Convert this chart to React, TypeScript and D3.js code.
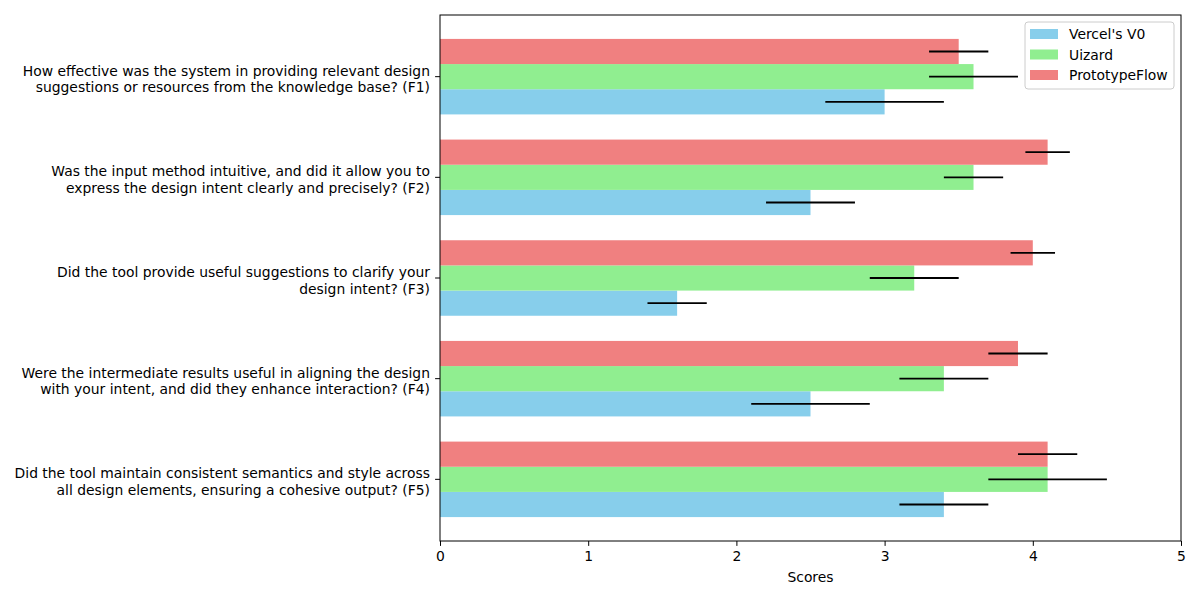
import React, { useRef, useEffect } from "react";
import * as d3 from "d3";

const questions = [
  ["How effective was the system in providing relevant design", "suggestions or resources from the knowledge base? (F1)"],
  ["Was the input method intuitive, and did it allow you to", "express the design intent clearly and precisely? (F2)"],
  ["Did the tool provide useful suggestions to clarify your", "design intent? (F3)"],
  ["Were the intermediate results useful in aligning the design", "with your intent, and did they enhance interaction? (F4)"],
  ["Did the tool maintain consistent semantics and style across", "all design elements, ensuring a cohesive output? (F5)"],
];

const seriesNames = ["Vercel's V0", "Uizard", "PrototypeFlow"];
const seriesColors = ["#87CEEB", "#90EE90", "#F08080"];

const vercelMean = [3.0, 2.5, 1.6, 2.5, 3.4];
const vercelErr = [0.4, 0.3, 0.2, 0.4, 0.3];
const uizardMean = [3.6, 3.6, 3.2, 3.4, 4.1];
const uizardErr = [0.3, 0.2, 0.3, 0.3, 0.4];
const flowMean = [3.5, 4.1, 4.0, 3.9, 4.1];
const flowErr = [0.2, 0.15, 0.15, 0.2, 0.2];

const xTicks = [0, 1, 2, 3, 4, 5];

export default function App() {
  const ref = useRef<SVGSVGElement>(null);

  useEffect(() => {
    document.body.style.margin = "0";
    if (!ref.current) return;
    const svg = d3.select(ref.current);
    svg.selectAll("*").remove();

    const left = 440, right = 1181, top = 15, bottom = 541;
    const n = questions.length;
    const barH = 0.25;

    const x = d3.scaleLinear().domain([0, 5]).range([left, right]);
    // F1 sits at the top, like matplotlib's barh with reversed order
    const y = d3.scaleLinear().domain([-0.6125, n - 1 + 0.6125]).range([bottom, top]);
    const pos = (i: number) => n - 1 - i;

    const series = [
      { mean: vercelMean, err: vercelErr, off: -barH },
      { mean: uizardMean, err: uizardErr, off: 0 },
      { mean: flowMean, err: flowErr, off: barH },
    ];

    series.forEach((s, si) => {
      svg.append("g")
        .selectAll("rect")
        .data(s.mean)
        .enter()
        .append("rect")
        .attr("x", x(0))
        .attr("y", (d, i) => y(pos(i) + s.off + barH / 2))
        .attr("width", (d) => x(d) - x(0))
        .attr("height", (d, i) => y(pos(i) + s.off - barH / 2) - y(pos(i) + s.off + barH / 2))
        .attr("fill", seriesColors[si]);
    });

    series.forEach((s) => {
      svg.append("g")
        .selectAll("line")
        .data(s.mean)
        .enter()
        .append("line")
        .attr("x1", (d, i) => x(d - s.err[i]))
        .attr("x2", (d, i) => x(d + s.err[i]))
        .attr("y1", (d, i) => y(pos(i) + s.off))
        .attr("y2", (d, i) => y(pos(i) + s.off))
        .attr("stroke", "black")
        .attr("stroke-width", 1.8);
    });

    // frame
    svg.append("rect")
      .attr("x", left).attr("y", top)
      .attr("width", right - left).attr("height", bottom - top)
      .attr("fill", "none").attr("stroke", "black").attr("stroke-width", 1);

    // x axis
    const xa = svg.append("g")
      .attr("transform", `translate(0,${bottom})`)
      .call(d3.axisBottom(x).tickValues(xTicks).tickFormat(d3.format("d")).tickSize(4.9).tickPadding(4.9));
    xa.select(".domain").remove();
    xa.selectAll("text").attr("font-size", 13.9).attr("font-family", "DejaVu Sans").attr("fill", "black");

    svg.append("text")
      .attr("x", (left + right) / 2).attr("y", 582)
      .attr("text-anchor", "middle")
      .attr("font-size", 13.9).attr("font-family", "DejaVu Sans")
      .text("Scores");

    // y ticks and labels
    const yg = svg.append("g");
    questions.forEach((q, i) => {
      const yy = y(pos(i));
      yg.append("line").attr("x1", left - 4.9).attr("x2", left).attr("y1", yy).attr("y2", yy)
        .attr("stroke", "black");
      const t = yg.append("text")
        .attr("x", left - 10)
        .attr("y", yy)
        .attr("text-anchor", "end")
        .attr("font-size", 13.9).attr("font-family", "DejaVu Sans");
      t.append("tspan").attr("x", left - 10).attr("dy", -1).text(q[0]);
      t.append("tspan").attr("x", left - 10).attr("dy", 16.5).text(q[1]);
    });

    // legend
    const lg = svg.append("g").attr("transform", "translate(1025,22)");
    lg.append("rect").attr("width", 149).attr("height", 67).attr("rx", 3)
      .attr("fill", "white").attr("fill-opacity", 0.8).attr("stroke", "#cccccc");
    seriesNames.forEach((name, i) => {
      lg.append("rect").attr("x", 5).attr("y", 7 + i * 20.5).attr("width", 28).attr("height", 10)
        .attr("fill", seriesColors[i]);
      lg.append("text").attr("x", 44).attr("y", 17 + i * 20.5)
        .attr("font-size", 13.9).attr("font-family", "DejaVu Sans").text(name);
    });
  }, []);

  return <svg ref={ref} width={1200} height={600} style={{ display: "block", background: "white" }} />;
}
